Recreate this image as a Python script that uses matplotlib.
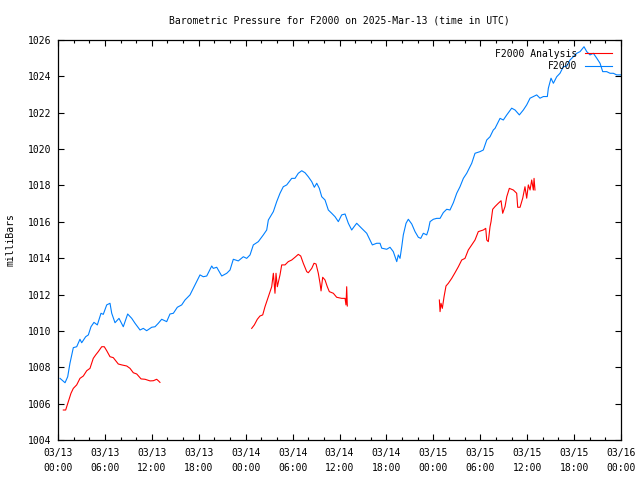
import numpy as np
import matplotlib
matplotlib.use("Agg")
import matplotlib.pyplot as plt
import matplotlib.dates as mdates

# ---- data (hours after 2025-03-13 00:00 UTC, pressure in mb) ----
f2000_hours = [0.26, 0.90, 1.24, 1.53, 1.96, 2.39, 2.81, 3.03, 3.54, 3.88, 4.22, 4.60, 5.03, 5.50, 5.79,
               6.23, 6.65, 6.87, 7.29, 7.80, 8.35, 8.91, 9.43, 9.85, 10.49, 10.91, 11.34, 11.98, 12.41,
               12.83, 13.26, 13.90, 14.32, 14.75, 15.26, 15.82, 16.24, 16.88, 17.30, 17.74, 18.16, 18.58,
               19.02, 19.66, 19.86, 20.30, 20.94, 21.58, 22.00, 22.42, 23.06, 23.70, 24.13, 24.56, 24.98,
               25.62, 26.26, 26.69, 26.90, 27.54, 27.97, 28.39, 28.81, 29.25, 29.67, 29.89, 30.31, 30.73,
               31.17, 31.59, 32.01, 32.45, 32.78, 33.09, 33.42, 33.73, 34.15, 34.57, 35.00, 35.43, 35.85,
               36.28, 36.71, 37.13, 37.56, 37.86, 38.20, 38.84, 39.48, 39.90, 40.20, 40.76, 41.18, 41.40,
               42.04, 42.46, 42.88, 43.32, 43.52, 43.74, 43.96, 44.16, 44.51, 44.80, 45.24, 45.66, 46.08,
               46.39, 46.72, 47.15, 47.36, 47.58, 48.00, 48.43, 48.86, 49.28, 49.71, 50.13, 50.56, 50.99,
               51.41, 51.84, 52.27, 52.91, 53.33, 53.97, 54.39, 54.83, 55.25, 55.67, 55.89, 56.53, 56.95,
               57.39, 58.02, 58.45, 59.00, 59.51, 59.94, 60.37, 60.79, 61.22, 61.64, 62.07, 62.58, 62.71,
               63.05, 63.35, 63.78, 64.20, 64.62, 65.06, 65.48, 65.90, 66.34, 66.76, 67.27, 67.62, 68.04,
               68.46, 68.90, 69.32, 69.66, 70.17, 70.60, 71.02, 71.45, 72.00]
f2000_mb = [1007.39, 1007.15, 1007.48, 1008.22, 1009.08, 1009.13, 1009.54, 1009.35, 1009.68, 1009.78,
            1010.23, 1010.47, 1010.33, 1010.97, 1010.91, 1011.43, 1011.52, 1010.97, 1010.45, 1010.69,
            1010.23, 1010.93, 1010.69, 1010.42, 1010.05, 1010.14, 1010.01, 1010.20, 1010.23, 1010.42,
            1010.64, 1010.51, 1010.93, 1010.97, 1011.30, 1011.43, 1011.70, 1011.98, 1012.34, 1012.71,
            1013.08, 1012.98, 1013.02, 1013.57, 1013.44, 1013.50, 1013.02, 1013.17, 1013.35, 1013.94,
            1013.85, 1014.08, 1013.99, 1014.18, 1014.73, 1014.91, 1015.28, 1015.55, 1016.10, 1016.56,
            1017.11, 1017.57, 1017.93, 1018.03, 1018.26, 1018.39, 1018.39, 1018.67, 1018.81, 1018.70,
            1018.48, 1018.21, 1017.90, 1018.12, 1017.84, 1017.38, 1017.20, 1016.65, 1016.47, 1016.28,
            1016.01, 1016.38, 1016.43, 1015.92, 1015.55, 1015.73, 1015.92, 1015.64, 1015.37, 1015.00,
            1014.73, 1014.82, 1014.82, 1014.55, 1014.49, 1014.60, 1014.36, 1013.81, 1014.18, 1013.99,
            1014.63, 1015.28, 1015.92, 1016.14, 1015.88, 1015.46, 1015.15, 1015.09, 1015.37, 1015.28,
            1015.55, 1016.01, 1016.14, 1016.19, 1016.19, 1016.51, 1016.69, 1016.65, 1017.05, 1017.57,
            1017.93, 1018.39, 1018.67, 1019.22, 1019.77, 1019.86, 1019.95, 1020.50, 1020.68, 1021.05,
            1021.14, 1021.69, 1021.60, 1021.88, 1022.25, 1022.15, 1021.88, 1022.15, 1022.43, 1022.80,
            1022.89, 1022.98, 1022.80, 1022.89, 1022.89, 1023.35, 1023.90, 1023.62, 1023.98, 1024.17,
            1024.53, 1024.57, 1024.90, 1025.08, 1025.27, 1025.36, 1025.63, 1025.36, 1025.18, 1025.27,
            1025.00, 1024.72, 1024.26, 1024.26, 1024.17, 1024.17, 1024.08, 1024.08]

analysis1_hours = [0.68, 0.98, 1.32, 1.66, 1.96, 2.39, 2.81, 3.24, 3.67, 4.09, 4.51, 4.82, 5.15, 5.59,
                   5.92, 6.23, 6.65, 7.07, 7.71, 8.15, 8.79, 9.21, 9.63, 10.07, 10.62, 11.13, 11.77,
                   12.19, 12.62, 12.83, 13.04]
analysis1_mb = [1005.65, 1005.65, 1006.11, 1006.57, 1006.84, 1007.03, 1007.39, 1007.52, 1007.81, 1007.94,
                1008.49, 1008.68, 1008.86, 1009.13, 1009.13, 1008.91, 1008.58, 1008.53, 1008.18, 1008.13,
                1008.07, 1007.94, 1007.70, 1007.63, 1007.36, 1007.34, 1007.25, 1007.26, 1007.34, 1007.26,
                1007.17]

analysis2_hours = [24.77, 25.11, 25.49, 25.83, 26.18, 26.47, 26.90, 27.33, 27.54, 27.75, 27.88, 28.05,
                   28.39, 28.61, 29.03, 29.45, 29.89, 30.31, 30.73, 31.04, 31.37, 31.81, 32.01, 32.45,
                   32.74, 33.00, 33.29, 33.51, 33.64, 33.85, 34.15, 34.44, 34.70, 35.21, 35.64, 36.28,
                   36.71, 36.83, 36.92, 37.00]
analysis2_mb = [1010.14, 1010.33, 1010.64, 1010.82, 1010.88, 1011.33, 1011.88, 1012.43, 1013.17, 1012.07,
                1013.17, 1012.43, 1013.08, 1013.63, 1013.63, 1013.81, 1013.90, 1014.05, 1014.21, 1014.12,
                1013.72, 1013.26, 1013.20, 1013.44, 1013.72, 1013.68, 1013.17, 1012.62, 1012.20, 1012.95,
                1012.80, 1012.43, 1012.16, 1012.07, 1011.85, 1011.79, 1011.79, 1011.43, 1012.43, 1011.37]

analysis3_hours = [48.77, 48.86, 48.98, 49.15, 49.37, 49.62, 49.92, 50.35, 50.77, 51.20, 51.63, 52.05,
                   52.47, 52.91, 53.33, 53.75, 54.39, 54.70, 54.83, 55.03, 55.25, 55.38, 55.59, 55.89,
                   56.31, 56.66, 56.87, 57.17, 57.39, 57.72, 58.23, 58.66, 58.79, 59.09, 59.43, 59.72,
                   59.94, 60.15, 60.37, 60.58, 60.79, 60.88, 61.00]
analysis3_mb = [1011.70, 1011.06, 1011.52, 1011.24, 1011.88, 1012.47, 1012.62, 1012.89, 1013.20, 1013.53,
                1013.90, 1013.99, 1014.45, 1014.73, 1015.00, 1015.46, 1015.55, 1015.64, 1015.00, 1014.91,
                1015.73, 1016.01, 1016.69, 1016.84, 1017.02, 1017.16, 1016.47, 1016.84, 1017.38, 1017.84,
                1017.75, 1017.57, 1016.80, 1016.80, 1017.30, 1017.93, 1017.30, 1018.03, 1017.75, 1018.30,
                1017.75, 1018.39, 1017.75]

series_labels = ["F2000 Analysis", "F2000"]
title = "Barometric Pressure for F2000 on 2025-Mar-13 (time in UTC)"
ylabel = "milliBars"
start = "2025-03-13T00:00"
end = "2025-03-16T00:00"

# ---- plotting ----
FONT = "DejaVu Sans Mono"
FS = 7
plt.rcParams["font.family"] = FONT
plt.rcParams["font.size"] = FS

base = np.datetime64(start)


def to_time(hours):
    return base + (np.array(hours) * 3600).round().astype("timedelta64[s]")


fig = plt.figure(figsize=(6.4, 4.8), dpi=100)
ax = fig.add_axes([58 / 640, 40 / 480, (621 - 58) / 640, 400 / 480])

red = "#ff0000"
blue = "#0080ff"
lw = 0.8
ax.plot(to_time(analysis1_hours), analysis1_mb, color=red, lw=lw, label=series_labels[0])
ax.plot(to_time(analysis2_hours), analysis2_mb, color=red, lw=lw)
ax.plot(to_time(analysis3_hours), analysis3_mb, color=red, lw=lw)
ax.plot(to_time(f2000_hours), f2000_mb, color=blue, lw=lw, label=series_labels[1])

ax.set_xlim(np.datetime64(start), np.datetime64(end))
ax.set_ylim(1004, 1026)
ax.set_yticks(np.arange(1004, 1027, 2))
ax.xaxis.set_major_locator(mdates.HourLocator(byhour=range(0, 24, 6)))
ax.xaxis.set_minor_locator(mdates.HourLocator(byhour=range(0, 24, 2)))
ax.xaxis.set_major_formatter(mdates.DateFormatter("%m/%d\n%H:%M"))

ax.tick_params(which="both", direction="in", top=True, right=True, color="black", width=0.8)
ax.tick_params(which="major", length=4.5, labelsize=FS)
ax.tick_params(axis="x", which="major", pad=6)
ax.tick_params(axis="y", which="major", pad=5)
ax.tick_params(which="minor", length=2.5)
for s in ax.spines.values():
    s.set_linewidth(0.9)

ax.set_title(title, fontsize=FS, pad=12)
ax.set_ylabel(ylabel, fontsize=FS, labelpad=9)

leg = ax.legend(loc="upper right", frameon=False, markerfirst=False, fontsize=FS,
                handlelength=2.8, handletextpad=0.8, borderaxespad=0.5, labelspacing=0.25,
                alignment="right")
for t in leg.get_texts():
    t.set_ha("right")

fig.canvas.draw()
for lbl in ax.get_xticklabels():
    lbl.set_linespacing(1.6)

fig.savefig("out.png", dpi=100)
